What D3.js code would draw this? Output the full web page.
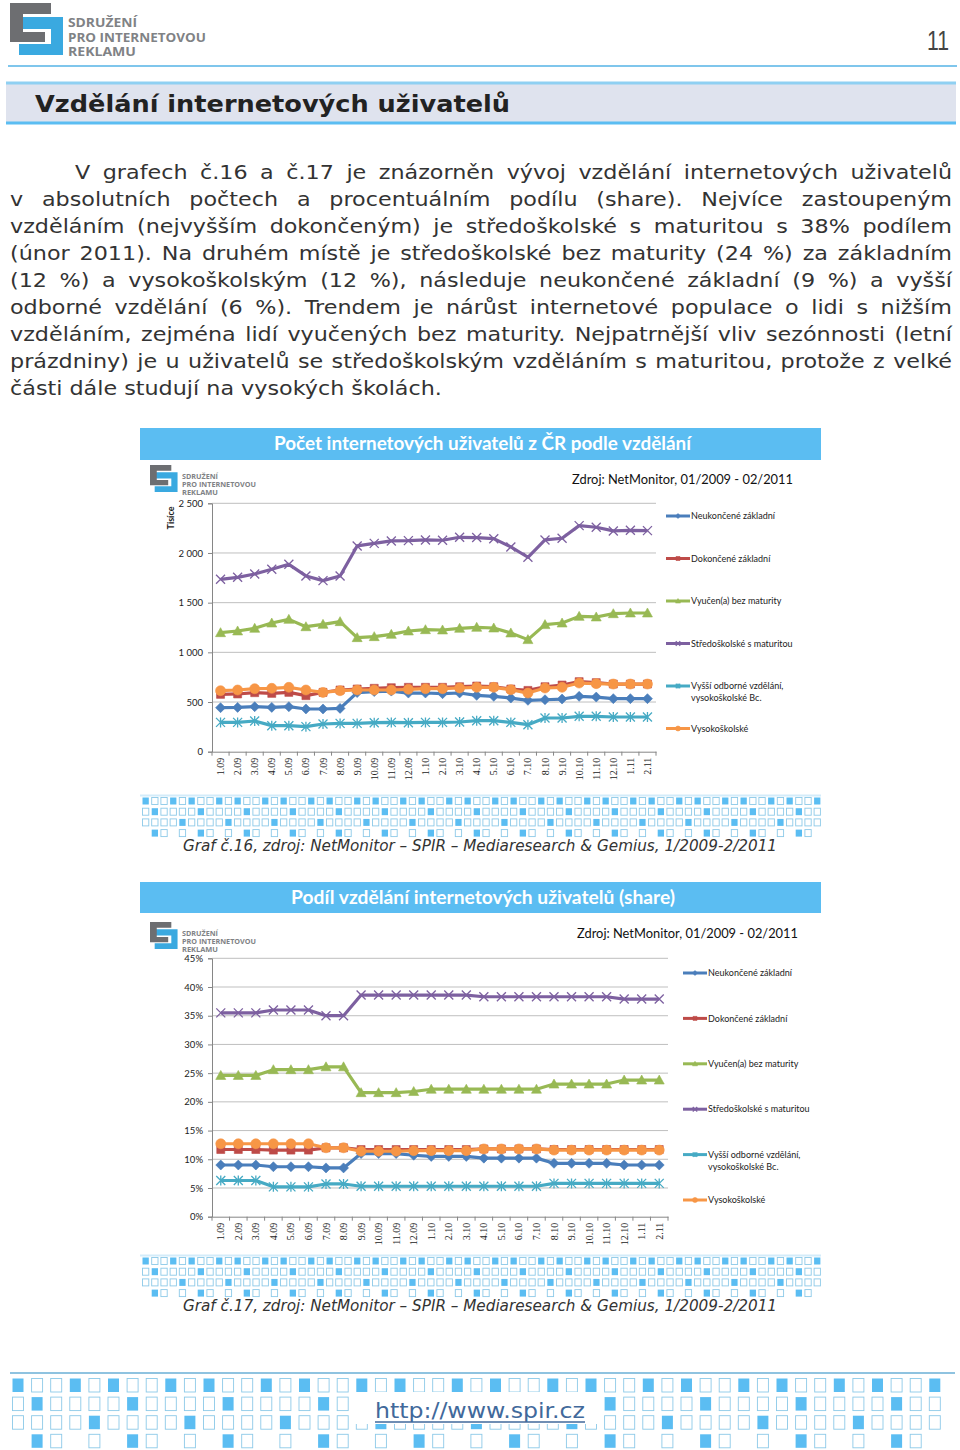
<!DOCTYPE html>
<html>
<head>
<meta charset="utf-8">
<script src="https://cdnjs.cloudflare.com/ajax/libs/d3/7.8.5/d3.min.js"></script>
<style>
  body { margin: 0; background: #fff; }
  #page { width: 960px; height: 1450px; overflow: hidden; }
</style>
</head>
<body>
<div id="page"></div>
<script>
// months 1/2009 - 2/2011
const cats = ['1.09','2.09','3.09','4.09','5.09','6.09','7.09','8.09','9.09','10.09','11.09','12.09',
              '1.10','2.10','3.10','4.10','5.10','6.10','7.10','8.10','9.10','10.10','11.10','12.10',
              '1.11','2.11']

const seriesNames = ['Neukončené základní', 'Dokončené základní', 'Vyučen(a) bez maturity',
                     'Středoškolské s maturitou', 'Vyšší odborné vzdělání,|vysokoškolské Bc.', 'Vysokoškolské']

// graf 16 - pocet uzivatelu (tisice)
const neukonceneAbs = [443,446,453,446,453,430,430,436,595,605,610,590, 591,584,591,567,557,540,517,523,530,557,550,534, 534,534]
const dokonceneAbs  = [577,581,594,587,597,564,597,621,631,638,644,648, 648,648,654,661,654,631,617,654,671,705,695,681, 681,681]
const vyucenAbs     = [1198,1215,1242,1295,1332,1258,1282,1309,1148,1158,1181,1215, 1228,1225,1242,1252,1245,1195,1128,1279,1295,1362,1356,1389, 1396,1396]
const stredoAbs     = [1735,1755,1789,1836,1886,1769,1722,1769,2071,2097,2121,2124, 2131,2128,2158,2155,2144,2061,1957,2131,2148,2275,2259,2222, 2228,2225]
const vyssiAbs      = [295,295,309,262,262,252,279,285,285,292,295,292, 295,295,299,312,312,295,272,339,339,356,356,349, 349,349]
const vysokeAbs     = [614,621,634,638,648,621,597,614,621,621,621,628, 634,634,641,648,648,624,590,641,648,691,685,681, 681,681]
const absTicks = [0, 500, 1000, 1500, 2000, 2500]

// graf 17 - podil (share)
const neukoncenePct = [9.0,9.0,9.0,8.7,8.7,8.7,8.5,8.5,11.0,11.0,11.0,10.7, 10.5,10.5,10.5,10.2,10.2,10.2,10.2,9.3,9.3,9.3,9.3,9.0, 9.0,9.0]
const dokoncenePct  = [11.7,11.7,11.7,11.6,11.6,11.6,12.0,12.0,11.7,11.7,11.7,11.7, 11.7,11.7,11.7,11.8,11.8,11.8,11.8,11.7,11.7,11.7,11.7,11.7, 11.7,11.7]
const vyucenPct     = [24.6,24.6,24.6,25.6,25.6,25.6,26.1,26.1,21.6,21.6,21.6,21.8, 22.2,22.2,22.2,22.2,22.2,22.2,22.2,23.1,23.1,23.1,23.1,23.8, 23.8,23.8]
const stredoPct     = [35.5,35.5,35.5,36.0,36.0,36.0,35.0,35.0,38.6,38.6,38.6,38.6, 38.6,38.6,38.6,38.3,38.3,38.3,38.3,38.3,38.3,38.3,38.3,37.9, 37.9,37.9]
const vyssiPct      = [6.3,6.3,6.3,5.2,5.2,5.2,5.7,5.7,5.3,5.3,5.3,5.3, 5.3,5.3,5.3,5.3,5.3,5.3,5.3,5.8,5.8,5.8,5.8,5.8, 5.8,5.8]
const vysokePct     = [12.7,12.7,12.7,12.7,12.7,12.7,12.0,12.0,11.4,11.4,11.4,11.5, 11.5,11.5,11.5,11.8,11.8,11.8,11.8,11.6,11.6,11.6,11.6,11.6, 11.6,11.6]
const pctTicks = [0, 5, 10, 15, 20, 25, 30, 35, 40, 45]

const paragraph = [
    'V grafech č.16 a č.17 je znázorněn vývoj vzdělání internetových uživatelů',
    'v absolutních počtech a procentuálním podílu (share). Nejvíce zastoupeným',
    'vzděláním (nejvyšším dokončeným) je středoškolské s maturitou s 38% podílem',
    '(únor 2011). Na druhém místě je středoškolské bez maturity (24 %) za základním',
    '(12 %) a vysokoškolským (12 %), následuje neukončené základní (9 %) a vyšší',
    'odborné vzdělání (6 %). Trendem je nárůst internetové populace o lidi s nižším',
    'vzděláním, zejména lidí vyučených bez maturity. Nejpatrnější vliv sezónnosti (letní',
    'prázdniny) je u uživatelů se středoškolským vzděláním s maturitou, protože z velké',
    'části dále studují na vysokých školách.'
]

const colors = ['#4a7ebb', '#be4b48', '#98b954', '#7d60a0', '#46aac4', '#f79646']
const markers = ['diamond', 'square', 'triangle', 'cross', 'star', 'circle']
const skyBlue = '#5bbdf2'
const verdana = "'DejaVu Sans', Verdana, sans-serif"

const svg = d3.select('#page').append('svg').attr('width', 960).attr('height', 1450)
    .attr('font-family', "Lato, 'Open Sans', sans-serif")

// ---------- logo SPIR
function logo(x, y, s, ty, fs, lens) {
    const g = svg.append('g').attr('transform', `translate(${x},${y}) scale(${s})`)
    g.append('path').attr('d', 'M9,14 H53 V52 H9 V41 H41 V26 H9 Z').attr('fill', '#3aa9e0')
    g.append('path').attr('d', 'M0,0 H41 V11 H13 V29 H35 V39 H0 Z').attr('fill', '#6d6e71')
    const words = ['SDRUŽENÍ', 'PRO INTERNETOVOU', 'REKLAMU']
    words.forEach((w, i) => {
        svg.append('text').attr('x', ty[0]).attr('y', ty[1] + i * ty[2])
            .attr('font-family', "'Open Sans', sans-serif").attr('font-weight', 700)
            .attr('font-size', fs).attr('fill', '#808285')
            .attr('textLength', lens[i]).attr('lengthAdjust', 'spacingAndGlyphs')
            .text(w)
    })
}

// ---------- page header
logo(10, 3, 1, [68, 27, 14.5], 12, [69, 138, 68])
svg.append('text').attr('x', 949).attr('y', 50).attr('text-anchor', 'end')
    .attr('font-family', "'Liberation Sans', sans-serif").attr('font-size', 27)
    .attr('fill', '#444').attr('textLength', 22).attr('lengthAdjust', 'spacingAndGlyphs').text('11')
svg.append('line').attr('x1', 8).attr('x2', 957).attr('y1', 66).attr('y2', 66)
    .attr('stroke', '#7fc6ec').attr('stroke-width', 2)

svg.append('rect').attr('x', 6).attr('y', 82).attr('width', 950).attr('height', 42).attr('fill', '#dfe3ee')
svg.append('line').attr('x1', 6).attr('x2', 956).attr('y1', 83).attr('y2', 83).attr('stroke', '#8fd0f2').attr('stroke-width', 3)
svg.append('line').attr('x1', 6).attr('x2', 956).attr('y1', 123).attr('y2', 123).attr('stroke', '#5bbdf2').attr('stroke-width', 3)
svg.append('text').attr('x', 35).attr('y', 112)
    .attr('font-family', verdana).attr('font-weight', 700)
    .attr('font-size', 23).attr('fill', '#222')
    .attr('textLength', 475).attr('lengthAdjust', 'spacingAndGlyphs')
    .text('Vzdělání internetových uživatelů')

// ---------- justified paragraph
// Verdana is wider than DejaVu: stretch glyphs so the free last line ends at x=442
const paraG = svg.append('g').attr('font-family', verdana).attr('font-size', 20).attr('fill', '#333')
const lastLine = paragraph[paragraph.length - 1]
const probe = paraG.append('text').text(lastLine)
const sx = 432 / probe.node().getComputedTextLength()
probe.remove()
paragraph.forEach((line, i) => {
    const x0 = i === 0 ? 75 : 10
    const t = paraG.append('text')
        .attr('transform', `translate(${x0},${179 + i * 27}) scale(${sx},1)`).text(line)
    if (i < paragraph.length - 1) {
        const gaps = line.split(' ').length - 1
        const free = (952 - x0) / sx - t.node().getComputedTextLength()
        t.attr('word-spacing', free / gaps)
    }
})

// ---------- square pattern (decoration)
const patRows = [[1,0,0,1,0], [0,1,0,0,0], [0,0,0,0,1], [-1,1,0,-1,0]]
function squares(x0, x1, y0, pitch, w, h, step) {
    const g = svg.append('g')
    const n = Math.floor((x1 - x0 - w) / pitch) + 1
    patRows.forEach((row, r) => {
        d3.range(n).forEach(i => {
            const kind = row[i % 5]
            if (kind < 0) return
            g.append('rect').attr('x', x0 + i * pitch + 0.5).attr('y', y0 + r * step + 0.5)
                .attr('width', w).attr('height', h)
                .attr('fill', kind ? skyBlue : '#fff')
                .attr('stroke', kind ? 'none' : '#8cc9e8').attr('stroke-width', 0.9)
        })
    })
    return g
}

// ---------- markers
function markerPath(type, r) {
    switch (type) {
        case 'diamond': return `M0,${-r} L${r},0 L0,${r} L${-r},0Z`
        case 'square': return `M${-r*0.8},${-r*0.8} H${r*0.8} V${r*0.8} H${-r*0.8}Z`
        case 'triangle': return `M0,${-r} L${r},${r*0.8} L${-r},${r*0.8}Z`
        case 'circle': return d3.symbol(d3.symbolCircle, Math.PI * r * r)()
        case 'cross': return `M${-r*0.9},${-r*0.9} L${r*0.9},${r*0.9} M${r*0.9},${-r*0.9} L${-r*0.9},${r*0.9}`
        case 'star': return `M${-r*0.9},${-r*0.9} L${r*0.9},${r*0.9} M${r*0.9},${-r*0.9} L${-r*0.9},${r*0.9} M0,${-r} L0,${r}`
    }
}
function drawMarker(sel, type, color, r) {
    const open = type === 'cross' || type === 'star'
    sel.append('path').attr('d', markerPath(type, r))
        .attr('fill', open ? 'none' : color)
        .attr('stroke', color).attr('stroke-width', open ? 1.3 : 0.6)
}

// ---------- chart
function drawChart(o) {
    const g = svg.append('g')

    g.append('rect').attr('x', 140).attr('y', o.barY).attr('width', 681).attr('height', o.barH).attr('fill', skyBlue)
    g.append('text').attr('x', o.titleX).attr('y', o.barY + o.barH / 2 + 6).attr('text-anchor', 'middle')
        .attr('font-weight', 700).attr('font-size', 18).attr('fill', '#fff')
        .attr('textLength', o.titleLen).attr('lengthAdjust', 'spacingAndGlyphs').text(o.title)

    logo(150, o.logoY, 0.52, [182, o.logoY + 14, 8], 7, [36, 74, 36])

    g.append('text').attr('x', o.srcX).attr('y', o.srcY).attr('font-size', 13).attr('fill', '#111')
        .attr('textLength', 221).attr('lengthAdjust', 'spacingAndGlyphs')
        .text('Zdroj: NetMonitor, 01/2009 - 02/2011')

    const x = d3.scaleBand().domain(cats).range([212, o.right])
    const y = d3.scaleLinear().domain([0, d3.max(o.ticks)]).range([o.bottom, o.top])
    const bw = x.bandwidth()

    // gridlines
    g.append('g').selectAll('line').data(o.ticks.slice(1)).join('line')
        .attr('x1', 212).attr('x2', o.right).attr('y1', d => y(d)).attr('y2', d => y(d))
        .attr('stroke', '#bfbfbf').attr('stroke-width', 1)

    // y axis
    const ya = g.append('g').attr('transform', 'translate(212,0)')
        .call(d3.axisLeft(y).tickValues(o.ticks).tickFormat(o.fmt).tickSize(4).tickPadding(5))
    ya.attr('font-family', null)
    ya.select('.domain').attr('stroke', '#868686')
    ya.selectAll('.tick line').attr('stroke', '#868686')
    ya.selectAll('text').attr('font-size', 9.5).attr('fill', '#222')

    // x axis, ticks on category borders
    const xa = g.append('g').attr('transform', `translate(0,${o.bottom})`)
        .call(d3.axisBottom(x).tickSize(0).tickPadding(0))
    xa.attr('font-family', "'Liberation Serif', serif")
    xa.select('.domain').attr('stroke', '#868686')
    xa.selectAll('text').attr('y', 0).attr('dy', null).attr('x', 0)
        .attr('transform', 'translate(3.5,6) rotate(-90)').attr('text-anchor', 'end')
        .attr('font-size', 10).attr('fill', '#222')
    xa.selectAll('line.border').data(cats.concat(['end'])).join('line').attr('class', 'border')
        .attr('x1', d => d === 'end' ? o.right : x(d)).attr('x2', d => d === 'end' ? o.right : x(d))
        .attr('y1', 0).attr('y2', 4).attr('stroke', '#868686')

    if (o.unit) {
        g.append('text').attr('transform', `translate(174,518) rotate(-90)`).attr('text-anchor', 'middle')
            .attr('font-weight', 700).attr('font-size', 9).attr('fill', '#222').text(o.unit)
    }

    // series
    const line = d3.line().x((d, i) => x(cats[i]) + bw / 2).y(d => y(d))
    o.series.forEach((vals, s) => {
        const sg = g.append('g')
        sg.append('path').attr('d', line(vals)).attr('fill', 'none')
            .attr('stroke', colors[s]).attr('stroke-width', 3.2).attr('stroke-linejoin', 'round')
        vals.forEach((v, i) => {
            const m = sg.append('g').attr('transform', `translate(${x(cats[i]) + bw / 2},${y(v)})`)
            drawMarker(m, markers[s], colors[s], 5)
        })
    })

    // legend
    const ly = d3.scalePoint().domain(seriesNames).range(o.legY)
    seriesNames.forEach((name, s) => {
        const lg = g.append('g').attr('transform', `translate(${o.legX},${ly(name)})`)
        lg.append('line').attr('x1', 0).attr('x2', 24).attr('stroke', colors[s]).attr('stroke-width', 3)
        const m = lg.append('g').attr('transform', 'translate(12,0)')
        drawMarker(m, markers[s], colors[s], 2.5)
        const t = lg.append('text').attr('x', 25).attr('y', 3.2).attr('font-size', 9).attr('fill', '#222')
        name.split('|').forEach((part, k) => {
            t.append('tspan').attr('x', 25).attr('dy', k ? 12 : 0).text(part)
        })
    })

    // pattern + caption
    svg.append('line').attr('x1', 140).attr('x2', 821).attr('y1', o.patY - 1.5).attr('y2', o.patY - 1.5)
        .attr('stroke', '#d3ecfa').attr('stroke-width', 2)
    squares(142, 822, o.patY, 9.2, 6.3, 7, 10.7)
    svg.append('text').attr('x', 480).attr('y', o.patY + 54).attr('text-anchor', 'middle')
        .attr('font-family', verdana).attr('font-style', 'italic')
        .attr('font-size', 15).attr('fill', '#333')
        .attr('textLength', 594).attr('lengthAdjust', 'spacingAndGlyphs').text(o.caption)
}

drawChart({
    title: 'Počet internetových uživatelů z ČR podle vzdělání', titleX: 482.5, titleLen: 417,
    barY: 428, barH: 32, logoY: 465, srcX: 572, srcY: 484,
    top: 503.3, bottom: 751.7, right: 656,
    ticks: absTicks, fmt: d => d3.format(',')(d).replace(',', ' '), unit: 'Tisíce',
    series: [neukonceneAbs, dokonceneAbs, vyucenAbs, stredoAbs, vyssiAbs, vysokeAbs],
    legX: 666, legY: [516, 728.5], patY: 797,
    caption: 'Graf č.16, zdroj: NetMonitor – SPIR – Mediaresearch & Gemius, 1/2009-2/2011'
})

drawChart({
    title: 'Podíl vzdělání internetových uživatelů (share)', titleX: 483, titleLen: 384,
    barY: 882, barH: 31, logoY: 922, srcX: 577, srcY: 938,
    top: 958.3, bottom: 1216.7, right: 668,
    ticks: pctTicks, fmt: d => d + '%', unit: null,
    series: [neukoncenePct, dokoncenePct, vyucenPct, stredoPct, vyssiPct, vysokePct],
    legX: 683, legY: [973, 1200], patY: 1257,
    caption: 'Graf č.17, zdroj: NetMonitor – SPIR – Mediaresearch & Gemius, 1/2009-2/2011'
})

// ---------- footer
svg.append('line').attr('x1', 10).attr('x2', 955).attr('y1', 1373).attr('y2', 1373)
    .attr('stroke', '#8fc3e0').attr('stroke-width', 2)
squares(12, 958, 1378, 19.1, 11, 13.5, 18.6)
svg.append('rect').attr('x', 352).attr('y', 1392).attr('width', 245).attr('height', 32).attr('fill', '#fff')
svg.append('text').attr('x', 480).attr('y', 1418).attr('text-anchor', 'middle')
    .attr('font-family', verdana).attr('font-size', 21).attr('fill', '#41699b')
    .attr('textLength', 210).attr('lengthAdjust', 'spacingAndGlyphs').text('http://www.spir.cz')
svg.append('line').attr('x1', 375).attr('x2', 585).attr('y1', 1422).attr('y2', 1422)
    .attr('stroke', '#41699b').attr('stroke-width', 1.5)
</script>
</body>
</html>
